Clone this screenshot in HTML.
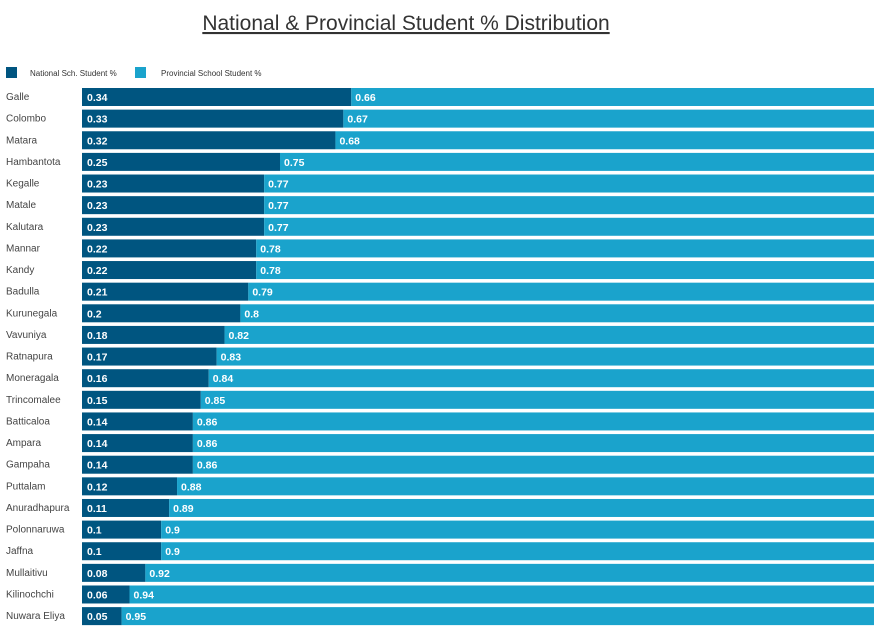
<!DOCTYPE html>
<html><head><meta charset="utf-8"><style>
body{margin:0;background:#fff;width:880px;height:633px;overflow:hidden;font-family:"Liberation Sans",sans-serif;}
</style></head><body>
<svg id="chart" width="880" height="633">
<text x="406" y="30" text-anchor="middle" font-size="21" fill="#333" text-decoration="underline">National &amp; Provincial Student % Distribution</text>
<rect x="6" y="67" width="11" height="11" fill="#005580"/>
<text x="30" y="76" font-size="8" fill="#333">National Sch. Student %</text>
<rect x="135" y="67" width="11" height="11" fill="#1aa3cc"/>
<text x="161" y="76" font-size="8" fill="#333">Provincial School Student %</text>
<g id="bars"></g>
</svg>
<script>
const categories=["Galle","Colombo","Matara","Hambantota","Kegalle","Matale","Kalutara","Mannar","Kandy","Badulla","Kurunegala","Vavuniya","Ratnapura","Moneragala","Trincomalee","Batticaloa","Ampara","Gampaha","Puttalam","Anuradhapura","Polonnaruwa","Jaffna","Mullaitivu","Kilinochchi","Nuwara Eliya"];
const national=[0.34,0.33,0.32,0.25,0.23,0.23,0.23,0.22,0.22,0.21,0.2,0.18,0.17,0.16,0.15,0.14,0.14,0.14,0.12,0.11,0.1,0.1,0.08,0.06,0.05];
const provincial=[0.66,0.67,0.68,0.75,0.77,0.77,0.77,0.78,0.78,0.79,0.8,0.82,0.83,0.84,0.85,0.86,0.86,0.86,0.88,0.89,0.9,0.9,0.92,0.94,0.95];
const x0=82,W=792,y0=88,pitch=21.63,bh=18;
const xs=v=>v*W;
const g=document.getElementById('bars');
const ns='http://www.w3.org/2000/svg';
function mk(t,a){const e=document.createElementNS(ns,t);for(const k in a)e.setAttribute(k,a[k]);return e;}
categories.forEach((c,i)=>{
 const y=y0+i*pitch;
 const lab=mk('text',{x:6,y:y+12,'font-size':10,fill:'#444'});lab.textContent=c;
 
 
 g.appendChild(lab);
 const wn=xs(national[i]),wp=W-wn;
 const r1=mk('rect',{x:x0,y:y,width:wn,height:bh,fill:'#005580'});
 
 
 g.appendChild(r1);
 const r2=mk('rect',{x:x0+wn,y:y,width:xs(provincial[i]),height:bh,fill:'#1aa3cc'});
 
 
 g.appendChild(r2);
 const t1=mk('text',{x:x0+5,y:y+13,'font-size':10.5,'font-weight':'bold',fill:'#fff'});t1.textContent=national[i];
 
 
 g.appendChild(t1);
 const t2=mk('text',{x:x0+wn+4,y:y+13,'font-size':10.5,'font-weight':'bold',fill:'#fff'});t2.textContent=provincial[i];
 
 
 g.appendChild(t2);
});
</script>
</body></html>
